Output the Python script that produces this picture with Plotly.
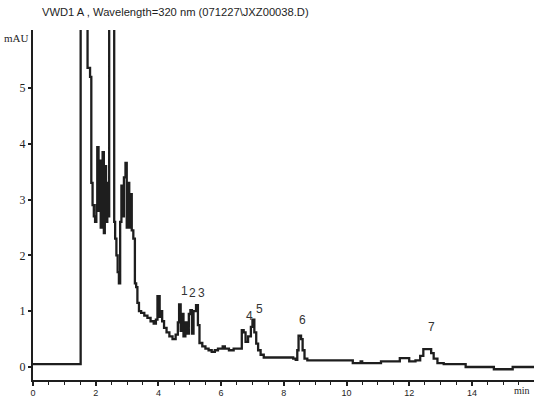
import plotly.graph_objects as go

# Retention time (min) and detector signal (mAU)
times = [0.00, 1.50, 1.52, 1.74, 1.82, 1.86, 1.90, 1.94, 1.98, 2.02, 2.05, 2.09, 2.12, 2.16,
         2.19, 2.22, 2.26, 2.29, 2.33, 2.37, 2.40, 2.43, 2.59, 2.62, 2.66, 2.70, 2.74, 2.78,
         2.82, 2.86, 2.90, 2.95, 2.99, 3.03, 3.07, 3.11, 3.15, 3.20, 3.25, 3.29, 3.33, 3.38,
         3.45, 3.55, 3.65, 3.75, 3.85, 3.92, 3.97, 4.04, 4.08, 4.12, 4.18, 4.26, 4.35, 4.45,
         4.55, 4.62, 4.66, 4.71, 4.76, 4.80, 4.86, 4.92, 4.97, 5.02, 5.07, 5.12, 5.20, 5.26,
         5.31, 5.40, 5.50, 5.60, 5.70, 5.80, 5.90, 6.05, 6.12, 6.25, 6.40, 6.62, 6.66, 6.72,
         6.78, 6.86, 6.95, 7.00, 7.06, 7.12, 7.18, 7.26, 7.36, 8.30, 8.38, 8.43, 8.47, 8.55,
         8.60, 8.66, 8.75, 10.20, 10.45, 10.50, 11.10, 11.70, 12.00, 12.20, 12.35, 12.45,
         12.70, 12.78, 12.90, 13.10, 13.80, 14.70, 15.30, 16.00]
signal = [0.05, 0.05, 9.00, 5.36, 5.20, 3.30, 2.90, 2.70, 2.60, 2.90, 3.94, 2.80, 3.70, 2.50,
          3.00, 3.85, 2.40, 3.60, 2.60, 3.30, 2.70, 9.00, 2.60, 2.30, 2.00, 1.70, 1.50, 2.60,
          3.25, 2.70, 3.40, 3.66, 2.50, 3.30, 2.50, 3.10, 2.45, 2.30, 1.50, 1.43, 1.15, 1.00,
          0.97, 0.92, 0.88, 0.82, 0.78, 0.85, 1.27, 0.90, 1.00, 0.82, 0.70, 0.62, 0.55, 0.50,
          0.58, 0.80, 1.12, 0.65, 0.95, 0.55, 0.80, 0.60, 0.95, 1.02, 0.60, 1.00, 1.11, 0.75,
          0.43, 0.37, 0.33, 0.30, 0.27, 0.30, 0.33, 0.37, 0.33, 0.30, 0.33, 0.33, 0.66, 0.62,
          0.45, 0.55, 0.72, 0.85, 0.62, 0.42, 0.30, 0.22, 0.17, 0.15, 0.13, 0.30, 0.56, 0.50,
          0.30, 0.15, 0.12, 0.07, 0.10, 0.07, 0.10, 0.16, 0.10, 0.12, 0.20, 0.32,
          0.25, 0.15, 0.07, 0.05, 0.00, -0.04, 0.00, 0.00]

peak_labels = ["1", "2", "3", "4", "5", "6", "7"]
peak_label_times = [4.82, 5.10, 5.39, 6.90, 7.21, 8.61, 12.72]
peak_label_values = [1.36, 1.32, 1.32, 0.91, 1.04, 0.84, 0.71]

x_ticks = [0, 2, 4, 6, 8, 10, 12, 14]
y_ticks = [0, 1, 2, 3, 4, 5]

title_text = "VWD1 A , Wavelength=320 nm (071227\\JXZ00038.D)"
ink = "#1e1e1e"

fig = go.Figure()
fig.add_trace(go.Scatter(x=times, y=signal, mode="lines", line_shape="hv",
                         line=dict(color=ink, width=2.3), hoverinfo="skip", showlegend=False))

for lab, t, v in zip(peak_labels, peak_label_times, peak_label_values):
    fig.add_annotation(x=t, y=v, text=lab, showarrow=False, xref="x", yref="y",
                       font=dict(family="Liberation Sans", size=12, color="#333"))

fig.add_annotation(x=0.014, y=1.051, xref="paper", yref="paper", text=title_text,
                   showarrow=False, xanchor="left", yanchor="middle",
                   font=dict(family="Liberation Sans", size=11.2, color=ink))
fig.add_annotation(x=-0.004, y=0.977, xref="paper", yref="paper", text="mAU",
                   showarrow=False, xanchor="right", yanchor="middle",
                   font=dict(family="Liberation Serif", size=11, color=ink))
fig.add_annotation(x=0.996, y=-0.031, xref="paper", yref="paper", text="min",
                   showarrow=False, xanchor="right", yanchor="middle",
                   font=dict(family="Liberation Serif", size=10, color=ink))

fig.update_layout(
    width=534, height=397,
    margin=dict(l=33, r=0, t=30, b=17, autoexpand=False),
    paper_bgcolor="white", plot_bgcolor="white",
    xaxis=dict(range=[0, 15.98], showline=True, linewidth=2, linecolor=ink,
               automargin=False,
               ticks="outside", tickvals=x_ticks, ticklen=4, tickwidth=2, tickcolor=ink,
               ticklabelstandoff=-1,
               minor=dict(dtick=0.5, ticks="outside", ticklen=3, tickwidth=1, tickcolor=ink),
               showgrid=False, zeroline=False,
               tickfont=dict(family="Liberation Sans", size=9, color=ink)),
    yaxis=dict(range=[-0.233, 6.04], showline=True, linewidth=2, linecolor=ink,
               automargin=False,
               ticks="outside", tickvals=y_ticks, ticklen=3, tickwidth=2, tickcolor=ink,
               showgrid=False, zeroline=False,
               tickfont=dict(family="Liberation Serif", size=12, color=ink)),
)

# remove the browser's default 8px body margin so the figure fills the window exactly
fig.write_html("out.html", config={"displayModeBar": False},
               post_script="document.body.style.margin='0';document.body.style.overflow='hidden';")
